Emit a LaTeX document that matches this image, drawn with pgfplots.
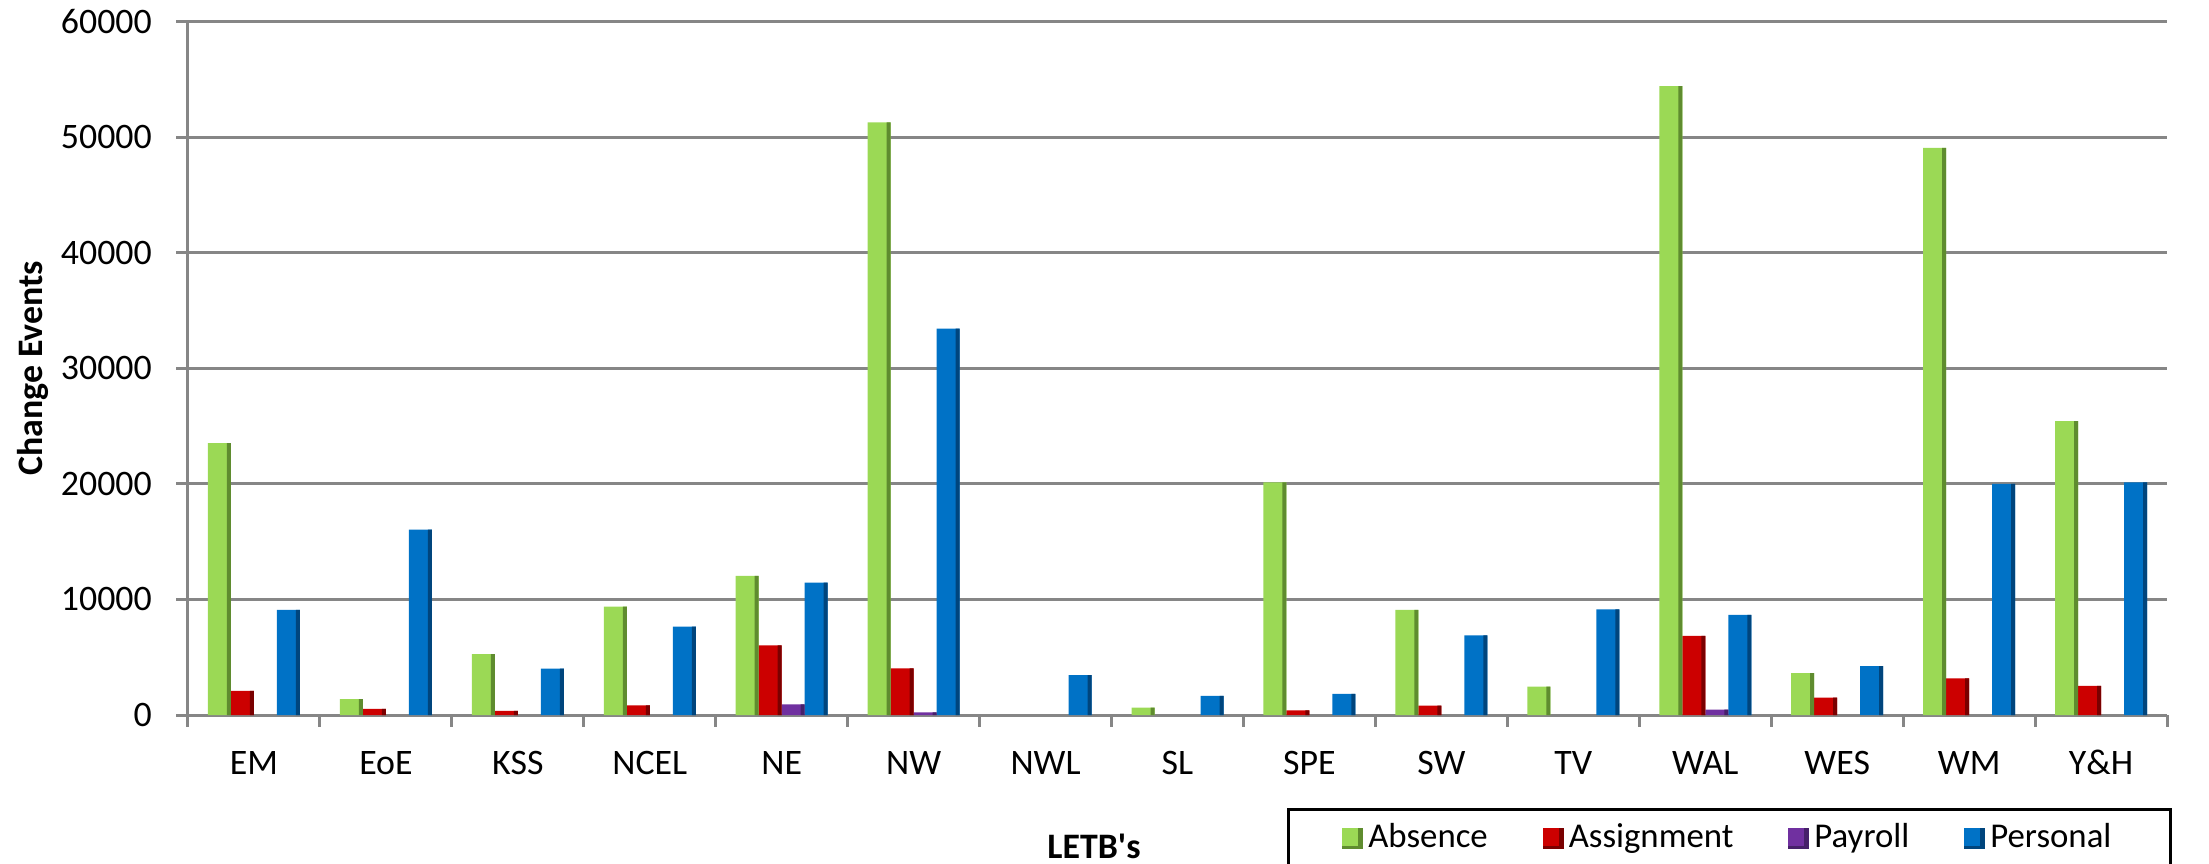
\documentclass[border=0pt]{standalone}
\usepackage{fontspec}
\setmainfont{Carlito}
\usepackage{pgfplots}
\usepackage{pgfplotstable}
\pgfplotsset{compat=1.18}
\definecolor{gA}{HTML}{9BD955}
\definecolor{gB}{HTML}{5F8C2F}
\definecolor{rA}{HTML}{CC0000}
\definecolor{rB}{HTML}{7A0000}
\definecolor{pA}{HTML}{7030A0}
\definecolor{pB}{HTML}{46206A}
\definecolor{bA}{HTML}{0072C6}
\definecolor{bB}{HTML}{00457D}
\definecolor{gridgray}{HTML}{868686}
\newcommand{\legsq}[2]{\fill[#1] (0mm,-1.05mm) rectangle (2.1mm,1.05mm);
  \fill[#2] (1.6mm,-1.05mm) rectangle (2.1mm,1.05mm);
  \fill[#2] (0mm,-1.05mm) rectangle (2.1mm,-0.75mm);}
\pgfplotstableread{
x y
0 23520
1 1380
2 5260
3 9380
4 12050
5 51290
7 640
8 20140
9 9100
10 2460
11 54430
12 3620
13 49090
14 25430
}\absence
\pgfplotstableread{
x y
0 2080
1 520
2 350
3 840
4 6030
5 4040
8 410
9 810
11 6850
12 1500
13 3170
14 2520
}\assignment
\pgfplotstableread{
x y
4 930
5 230
11 470
}\payroll
\pgfplotstableread{
x y
0 9090
1 16050
2 4010
3 7650
4 11450
5 33430
6 3460
7 1650
8 1820
9 6900
10 9150
11 8660
12 4240
13 20000
14 20140
}\personal
\begin{document}
\begin{tikzpicture}
\begin{axis}[
  scale only axis, width=197.9mm, height=69.33mm,
  xmin=-0.5, xmax=14.5, ymin=0, ymax=60000,
  ybar, bar width=2.3mm,
  axis lines*=left,
  axis line style={draw=gridgray, line width=0.3mm},
  ymajorgrids, grid style={draw=gridgray, line width=0.3mm},
  ytick={0,10000,...,60000},
  scaled y ticks=false,
  /pgf/number format/1000 sep={},
  /pgf/number format/assume math mode=true,
  tick align=outside, major tick length=1.15mm,
  tick style={draw=gridgray, line width=0.3mm},
  xtick={-0.5,0.5,...,14.5}, xticklabels={},
  extra x ticks={0,1,...,14},
  extra x tick labels={EM,EoE,KSS,NCEL,NE,NW,NWL,SL,SPE,SW,TV,WAL,WES,WM,Y\&H},
  extra x tick style={major tick length=0pt},
  xticklabel style={font=\fontsize{10.2}{12}\selectfont, anchor=base, inner sep=0pt, yshift=-5.9mm},
  yticklabel style={font=\fontsize{10.2}{12}\selectfont, anchor=east, inner sep=0pt, xshift=-2.4mm},
  ylabel={Change Events},
  ylabel style={at={(rel axis cs:-0.0783,0.5)}, anchor=center, font=\fontsize{10.2}{12}\selectfont\bfseries},
  xlabel={LETB\textquotesingle s},
  xlabel style={at={(rel axis cs:0.4578,0)}, anchor=base, yshift=-14.3mm, inner sep=0pt, font=\fontsize{10.2}{12}\selectfont\bfseries},
  legend columns=4,
  legend style={at={(rel axis cs:0.5553,-0.1341)}, anchor=north west, draw=black, line width=0.27mm,
    inner xsep=5.4mm, inner ysep=0.9mm, font=\fontsize{9.9}{12}\selectfont,
    nodes={inner sep=0.5mm},
    /tikz/every even column/.append style={column sep=5.0mm}},
]
\addplot[fill=gA, draw=none, bar shift=-3.45mm,
  legend image code/.code={\legsq{gA}{gB}}] table[x=x,y=y]{\absence};
\addlegendentry{Absence}
\addplot[fill=rA, draw=none, bar shift=-1.15mm,
  legend image code/.code={\legsq{rA}{rB}}] table[x=x,y=y]{\assignment};
\addlegendentry{Assignment}
\addplot[fill=pA, draw=none, bar shift=1.15mm,
  legend image code/.code={\legsq{pA}{pB}}] table[x=x,y=y]{\payroll};
\addlegendentry{Payroll}
\addplot[fill=bA, draw=none, bar shift=3.45mm,
  legend image code/.code={\legsq{bA}{bB}}] table[x=x,y=y]{\personal};
\addlegendentry{Personal}
% darker right-hand bevel of each bar
\addplot[forget plot, fill=gB, draw=none, bar width=0.4mm, bar shift=-2.5mm] table[x=x,y=y]{\absence};
\addplot[forget plot, fill=rB, draw=none, bar width=0.4mm, bar shift=-0.2mm] table[x=x,y=y]{\assignment};
\addplot[forget plot, fill=pB, draw=none, bar width=0.4mm, bar shift=2.1mm] table[x=x,y=y]{\payroll};
\addplot[forget plot, fill=bB, draw=none, bar width=0.4mm, bar shift=4.4mm] table[x=x,y=y]{\personal};
\end{axis}
\pgfresetboundingbox
\path[use as bounding box] (-18.8mm,-14.8mm) rectangle (202.1mm,71.5mm);
\end{tikzpicture}
\end{document}
